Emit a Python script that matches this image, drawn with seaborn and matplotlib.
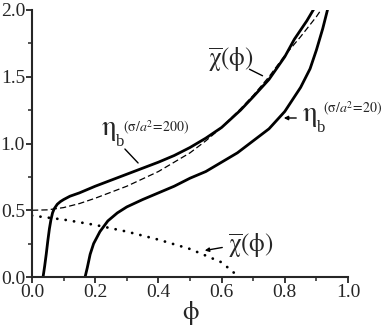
import numpy as np
import pandas as pd
import matplotlib
matplotlib.use("Agg")
import matplotlib.pyplot as plt
from matplotlib.ticker import MultipleLocator
import seaborn as sns

# ---- data ----
phi_eta200 = [0.035, 0.040, 0.045, 0.050, 0.055, 0.060, 0.065, 0.070, 0.080, 0.090, 0.10, 0.12, 0.15, 0.20,
              0.25, 0.30, 0.35, 0.40, 0.45, 0.50, 0.55, 0.60, 0.66, 0.70, 0.75, 0.80, 0.83, 0.87, 0.895]
eta200     = [0.00, 0.08, 0.17, 0.27, 0.36, 0.43, 0.48, 0.51, 0.545, 0.565, 0.58, 0.605, 0.63, 0.68,
              0.725, 0.77, 0.815, 0.86, 0.91, 0.97, 1.04, 1.12, 1.25, 1.35, 1.48, 1.65, 1.78, 1.92, 2.02]

phi_eta20 = [0.168, 0.175, 0.184, 0.195, 0.215, 0.24, 0.27, 0.30, 0.35, 0.40, 0.45, 0.50, 0.55, 0.60,
             0.65, 0.70, 0.75, 0.80, 0.85, 0.88, 0.90, 0.92, 0.935]
eta20     = [0.00, 0.07, 0.17, 0.25, 0.34, 0.42, 0.48, 0.525, 0.58, 0.63, 0.68, 0.74, 0.79, 0.86,
             0.93, 1.02, 1.11, 1.24, 1.42, 1.56, 1.70, 1.86, 2.00]

phi_chi_dash = [0.0, 0.05, 0.10, 0.15, 0.20, 0.30, 0.40, 0.50, 0.55, 0.60, 0.66, 0.70, 0.75, 0.80, 0.85, 0.88, 0.90, 0.92]
chi_dash     = [0.50, 0.503, 0.52, 0.55, 0.59, 0.68, 0.79, 0.93, 1.02, 1.12, 1.26, 1.36, 1.50, 1.66, 1.80, 1.89, 1.95, 2.02]

phi_chi_dot = [0.0, 0.10, 0.20, 0.30, 0.40, 0.50, 0.60, 0.655]
chi_dot     = [0.46, 0.43, 0.39, 0.34, 0.28, 0.21, 0.11, 0.0]

x_ticks = [0.0, 0.2, 0.4, 0.6, 0.8, 1.0]
y_ticks = [0.0, 0.5, 1.0, 1.5, 2.0]

# ---- style ----
sns.set_style("ticks")
plt.rcParams["font.family"] = ["Liberation Serif", "DejaVu Serif"]
plt.rcParams["mathtext.fontset"] = "stix"

fig = plt.figure(figsize=(3.82, 3.27), dpi=100)
ax = fig.add_axes([32/382, 50/327, 316/382, 267/327])

df200 = pd.DataFrame({"phi": phi_eta200, "v": eta200})
df20 = pd.DataFrame({"phi": phi_eta20, "v": eta20})
dfd = pd.DataFrame({"phi": phi_chi_dash, "v": chi_dash})
dfo = pd.DataFrame({"phi": phi_chi_dot, "v": chi_dot})

sns.lineplot(data=dfd, x="phi", y="v", ax=ax, color="black", lw=0.9,
             linestyle=(0, (5, 2.5)), sort=False)
sns.lineplot(data=df200, x="phi", y="v", ax=ax, color="black", lw=2.0, sort=False)
sns.lineplot(data=df20, x="phi", y="v", ax=ax, color="black", lw=2.0, sort=False)
l = sns.lineplot(data=dfo, x="phi", y="v", ax=ax, color="black", lw=2.0,
                 linestyle=(0, (0.05, 3.0)), sort=False)
l.lines[-1].set_dash_capstyle("round")

ax.set_xlim(0, 1.0)
ax.set_ylim(0, 2.0)
ax.set_xticks(x_ticks)
ax.set_yticks(y_ticks)
ax.set_xticklabels([f"{t:.1f}" for t in x_ticks])
ax.set_yticklabels([f"{t:.1f}" for t in y_ticks])
ax.xaxis.set_minor_locator(MultipleLocator(0.1))
ax.yaxis.set_minor_locator(MultipleLocator(0.25))
ax.tick_params(which="major", direction="out", length=4, width=1.3, labelsize=14, pad=1)
ax.tick_params(which="minor", direction="out", length=3, width=1.1)
for s in ["left", "bottom"]:
    ax.spines[s].set_linewidth(1.5)
sns.despine(ax=ax)
ax.set_ylabel("")
ax.set_xlabel("ϕ", fontsize=19, labelpad=0, family="STIXGeneral")

def P(px, py):
    return ((px - 32) / 316.0, (277 - py) / 133.5)

chi_label = r"$\overline{\mathrm{\chi}}(\mathrm{\phi})$"

# upper chi-bar label
ax.text(*P(208, 66), chi_label, fontsize=18, ha="left", va="baseline")
ax.annotate("", xy=P(265, 77), xytext=P(247, 68),
            arrowprops=dict(arrowstyle="-", lw=1.0, color="black"))

# eta_b (200) label
ax.text(*P(101, 135), r"$\mathrm{\eta}$", fontsize=21, ha="left", va="baseline")
ax.text(*P(116, 146), "b", fontsize=12, ha="left", va="baseline")
ax.text(*P(123, 132), r"$(\mathrm{\sigma}/a^{2}\!=\!200)$", fontsize=10, ha="left", va="baseline")
ax.annotate("", xy=P(140, 165), xytext=P(123, 147),
            arrowprops=dict(arrowstyle="-", lw=1.0, color="black"))

# eta_b (20) label
ax.text(*P(302, 121), r"$\mathrm{\eta}$", fontsize=21, ha="left", va="baseline")
ax.text(*P(317, 132), "b", fontsize=12, ha="left", va="baseline")
ax.text(*P(323, 113), r"$(\mathrm{\sigma}/a^{2}\!=\!20)$", fontsize=10, ha="left", va="baseline")
ax.annotate("", xy=P(281, 118), xytext=P(299, 118),
            arrowprops=dict(arrowstyle="-|>", lw=1.0, color="black", mutation_scale=6))

# lower chi-bar label
ax.text(*P(228, 252), chi_label, fontsize=18, ha="left", va="baseline")
ax.annotate("", xy=P(202, 251), xytext=P(225, 247),
            arrowprops=dict(arrowstyle="-|>", lw=1.0, color="black", mutation_scale=6))

fig.savefig("out.png", dpi=100)
